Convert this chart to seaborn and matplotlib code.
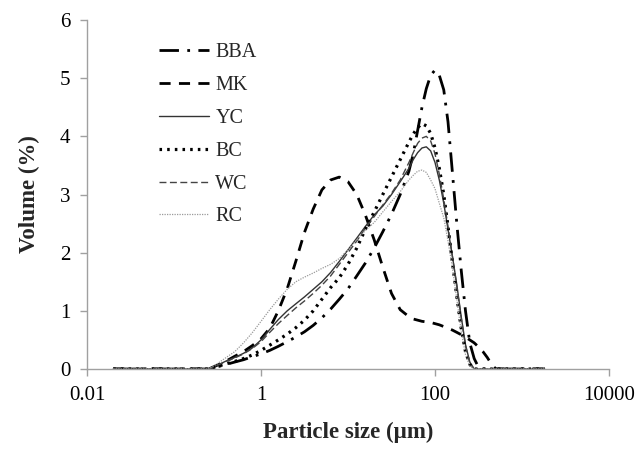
import matplotlib
matplotlib.use("Agg")
import matplotlib.pyplot as plt
import seaborn as sns
import pandas as pd
from matplotlib.ticker import FixedLocator, FixedFormatter, NullLocator

# Particle sizes (µm)
size = [0.02, 0.1, 0.25, 0.32, 0.40, 0.50, 0.63, 0.79, 1.0, 1.26, 1.58, 2.0, 2.51, 3.16,
        3.98, 5.01, 6.31, 7.94, 10.0, 12.6, 15.8, 20.0, 25.1, 31.6, 39.8, 50.1, 56.2,
        63.1, 70.8, 79.4, 89.1, 100, 112, 126, 141, 158, 178, 200, 224, 251, 282, 316,
        355, 398, 447, 501, 1000, 1820]

bba = [0, 0, 0, 0.04, 0.08, 0.12, 0.16, 0.21, 0.26, 0.32, 0.39, 0.47, 0.55, 0.64, 0.75,
       0.88, 1.03, 1.2, 1.38, 1.6, 1.82, 2.08, 2.36, 2.66, 3.0, 3.4, 3.7, 4.1, 4.5, 4.82,
       5.05, 5.14, 5.05, 4.8, 4.25, 3.4, 2.5, 1.7, 1.0, 0.45, 0.18, 0.03, 0, 0, 0, 0, 0, 0]
mk = [0, 0, 0, 0.07, 0.14, 0.22, 0.3, 0.4, 0.52, 0.7, 1.0, 1.38, 1.85, 2.35, 2.75, 3.08,
      3.25, 3.30, 3.22, 3.0, 2.65, 2.22, 1.75, 1.3, 1.02, 0.9, 0.86, 0.84, 0.82, 0.81, 0.8,
      0.78, 0.76, 0.73, 0.7, 0.67, 0.63, 0.59, 0.55, 0.5, 0.45, 0.38, 0.3, 0.2, 0.08, 0, 0, 0]
yc = [0, 0, 0, 0.07, 0.14, 0.2, 0.27, 0.36, 0.5, 0.68, 0.85, 1.0, 1.12, 1.24, 1.37, 1.5,
      1.66, 1.85, 2.05, 2.25, 2.45, 2.65, 2.8, 3.0, 3.22, 3.45, 3.6, 3.72, 3.8, 3.82, 3.75,
      3.55, 3.25, 2.85, 2.4, 1.95, 1.45, 0.9, 0.42, 0.12, 0, 0, 0, 0, 0, 0, 0, 0]
bc = [0, 0, 0, 0.05, 0.09, 0.13, 0.18, 0.24, 0.32, 0.41, 0.5, 0.6, 0.71, 0.84, 1.0, 1.2,
      1.4, 1.57, 1.8, 2.08, 2.4, 2.7, 3.0, 3.3, 3.6, 3.9, 4.04, 4.15, 4.22, 4.18, 4.05,
      3.8, 3.45, 3.0, 2.45, 1.85, 1.25, 0.7, 0.3, 0.08, 0, 0, 0, 0, 0, 0, 0, 0]
wc = [0, 0, 0, 0.07, 0.13, 0.19, 0.26, 0.35, 0.47, 0.63, 0.78, 0.92, 1.05, 1.17, 1.3, 1.44,
      1.6, 1.8, 2.0, 2.2, 2.42, 2.62, 2.82, 3.02, 3.25, 3.55, 3.72, 3.88, 3.97, 4.0, 3.92,
      3.7, 3.35, 2.92, 2.45, 1.95, 1.42, 0.88, 0.4, 0.1, 0, 0, 0, 0, 0, 0, 0, 0]
rc = [0, 0, 0, 0.1, 0.2, 0.3, 0.45, 0.62, 0.82, 1.02, 1.2, 1.37, 1.5, 1.58, 1.65, 1.73,
      1.8, 1.9, 2.05, 2.22, 2.38, 2.52, 2.7, 2.88, 3.05, 3.25, 3.33, 3.4, 3.42, 3.38, 3.25,
      3.1, 2.85, 2.6, 2.2, 1.75, 1.2, 0.65, 0.25, 0.05, 0, 0, 0, 0, 0, 0, 0, 0]

series_names = ["BBA", "MK", "YC", "BC", "WC", "RC"]
series_vals = [bba, mk, yc, bc, wc, rc]
x_ticks = [0.01, 1, 100, 10000]
x_tick_labels = ["0.01", "1", "100", "10000"]
y_ticks = [0, 1, 2, 3, 4, 5, 6]

sns.set_style("white")
plt.rcParams["font.family"] = ["Liberation Serif", "DejaVu Serif"]

styles = {
    "BBA": dict(color="black", lw=2.0, ls=(0, (7, 3, 1, 3))),
    "MK": dict(color="black", lw=2.0, ls=(0, (4, 3))),
    "YC": dict(color="#333333", lw=1.0, ls="-"),
    "BC": dict(color="black", lw=2.3, ls=(0, (0.8, 1.6))),
    "WC": dict(color="#444444", lw=1.0, ls=(0, (5, 2.5))),
    "RC": dict(color="#9a9a9a", lw=0.9, ls=(0, (1, 1))),
}

frames = []
for name, vals in zip(series_names, series_vals):
    frames.append(pd.DataFrame({"size": size, "volume": vals, "sample": name}))
df = pd.concat(frames, ignore_index=True)

fig = plt.figure(figsize=(6.44, 4.53), dpi=100)
ax = fig.add_axes([0.1351, 0.1854, 0.8106, 0.7704])

for name in series_names:
    st = styles[name]
    sub = df[df["sample"] == name]
    sns.lineplot(data=sub, x="size", y="volume", ax=ax, color=st["color"],
                 linewidth=st["lw"], linestyle=st["ls"], label=name, estimator=None,
                 sort=False)

ax.set_xscale("log")
ax.set_xlim(0.01, 10000)
ax.set_ylim(0, 6)
ax.xaxis.set_major_locator(FixedLocator(x_ticks))
ax.xaxis.set_major_formatter(FixedFormatter(x_tick_labels))
ax.xaxis.set_minor_locator(NullLocator())
ax.set_yticks(y_ticks)
ax.set_yticklabels([str(v) for v in y_ticks])

for s in ["top", "right"]:
    ax.spines[s].set_visible(False)
for s in ["left", "bottom"]:
    ax.spines[s].set_color("#a0a0a0")
    ax.spines[s].set_linewidth(1.0)
ax.tick_params(axis="both", which="major", direction="out", length=5, width=1,
               color="#a0a0a0", labelsize=15, labelcolor="black", pad=7, bottom=True, left=True)

ax.set_xlabel("Particle size (µm)", fontsize=16.5, fontweight="bold", labelpad=12)
ax.set_ylabel("Volume (%)", fontsize=16.5, fontweight="bold", labelpad=14)

leg = ax.legend(loc="upper left", bbox_to_anchor=(0.103, 0.985), frameon=False,
                fontsize=14.5, handlelength=2.5, handletextpad=0.3, labelspacing=0.68)

fig.savefig("out.png", dpi=100)
